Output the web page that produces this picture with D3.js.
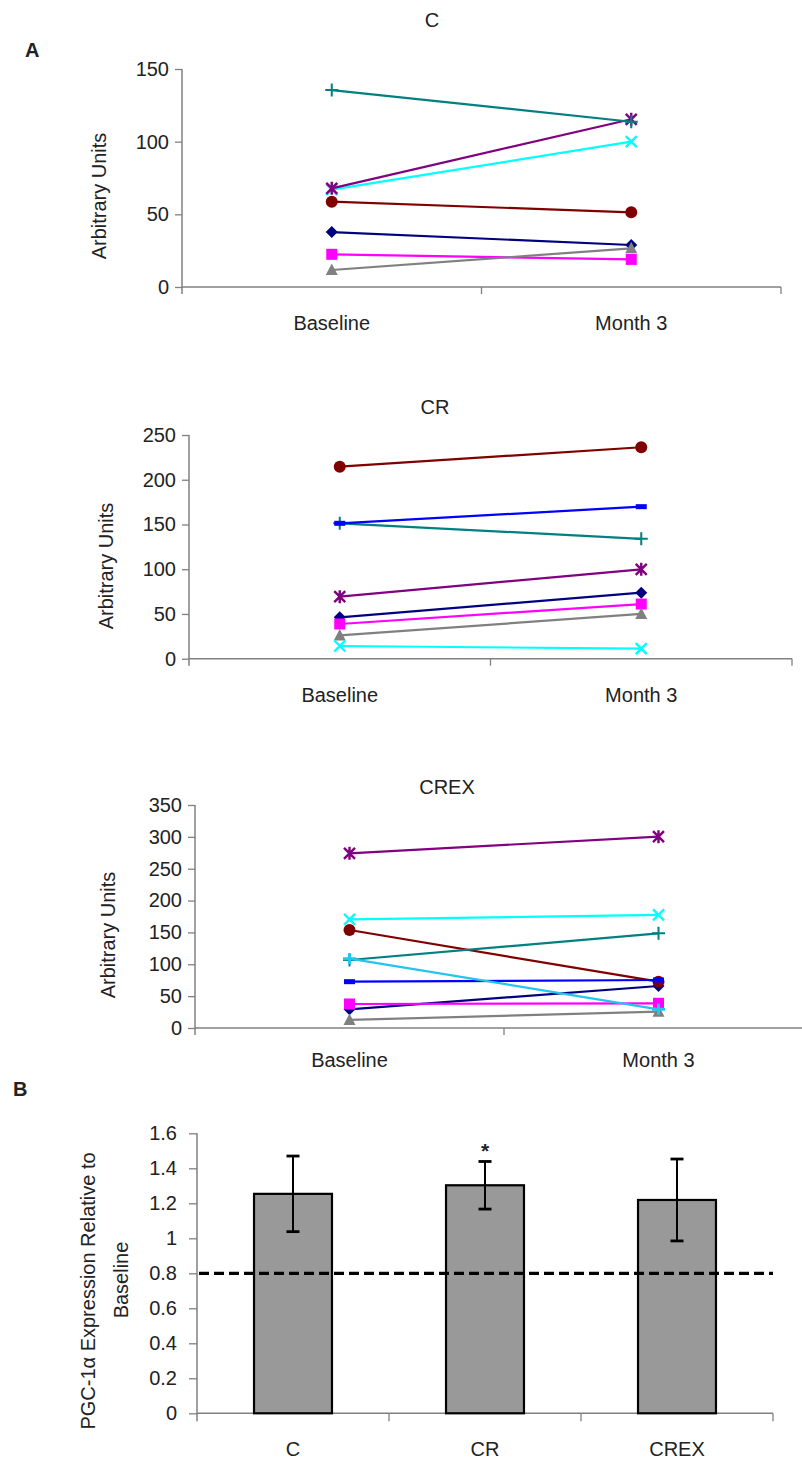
<!DOCTYPE html>
<html>
<head>
<meta charset="utf-8">
<script src="https://cdn.jsdelivr.net/npm/d3@7"></script>
<style>
  html, body { margin: 0; padding: 0; background: #fff; }
  svg { display: block; }
  text { font-family: "Liberation Sans", Arial, sans-serif; fill: #222; }
</style>
</head>
<body>
<svg id="chart" width="802" height="1460"></svg>
<script>
// ---------------- DATA ----------------
const timepoints = ["Baseline", "Month 3"];
// series order: S1 navy diamond, S2 magenta square, S3 gray triangle, S4 cyan x,
// S5 purple star, S6 dark red circle, S7 teal plus, S8 blue dash, S9 sky blue
const seriesKeys = ["S1", "S2", "S3", "S4", "S5", "S6", "S7", "S8", "S9"];

const cBaseline    = [37.8, 22.5, 11.7, 67.0, 67.9, 58.7, 135.5, null, null];
const cMonth3      = [28.9, 19.0, 26.6, 100.0, 115.4, 51.4, 113.7, null, null];
const crBaseline   = [46.2, 38.8, 26.0, 14.2, 69.3, 214.6, 151.3, 151.3, null];
const crMonth3     = [73.8, 61.1, 50.0, 11.2, 99.9, 236.3, 134.0, 169.9, null];
const crexBaseline = [29.3, 37.7, 12.6, 170.6, 274.2, 153.8, 106.7, 72.7, 108.8];
const crexMonth3   = [65.9, 38.8, 25.6, 177.4, 300.3, 72.7, 148.6, 75.3, 29.3];

const cTicks    = [0, 50, 100, 150];
const crTicks   = [0, 50, 100, 150, 200, 250];
const crexTicks = [0, 50, 100, 150, 200, 250, 300, 350];

const groups     = ["C", "CR", "CREX"];
const ratio      = [1.254, 1.303, 1.219];
const ratioErr   = [0.216, 0.136, 0.234];
const barTicks   = [0, 0.2, 0.4, 0.6, 0.8, 1.0, 1.2, 1.4, 1.6];
const refLevel   = 0.8;
const sigMarks   = ["", "*", ""];

// ---------------- STYLES ----------------
const seriesColor = {
  S1: "#000080", S2: "#FF00FF", S3: "#808080", S4: "#00FFFF", S5: "#800080",
  S6: "#800000", S7: "#008080", S8: "#0000FF", S9: "#22C4F0"
};
const seriesMarker = {
  S1: "diamond", S2: "square", S3: "triangle", S4: "x", S5: "star",
  S6: "circle", S7: "plus", S8: "dash", S9: "plusBold"
};

const svg = d3.select("#chart");
svg.append("rect").attr("width", 802).attr("height", 1460).attr("fill", "#fff");

const AXIS_COLOR = "#808080";
const FONT = 20;

function drawMarker(g, type, x, y, color) {
  const m = g.append("g").attr("transform", `translate(${x},${y})`);
  switch (type) {
    case "diamond":
      m.append("path").attr("d", "M0,-6L6,0L0,6L-6,0Z").attr("fill", color); break;
    case "square":
      m.append("rect").attr("x", -5.5).attr("y", -5.5).attr("width", 11).attr("height", 11).attr("fill", color); break;
    case "triangle":
      m.append("path").attr("d", "M0,-6.5L6,5L-6,5Z").attr("fill", color); break;
    case "x":
      m.append("path").attr("d", "M-5.5,-5.5L5.5,5.5M-5.5,5.5L5.5,-5.5").attr("stroke", color).attr("stroke-width", 2.4).attr("fill", "none"); break;
    case "star":
      m.append("path").attr("d", "M-5.5,-5.5L5.5,5.5M-5.5,5.5L5.5,-5.5M0,-6.5L0,6.5").attr("stroke", color).attr("stroke-width", 2.4).attr("fill", "none"); break;
    case "circle":
      m.append("circle").attr("r", 6).attr("fill", color); break;
    case "plus":
      m.append("path").attr("d", "M-6.5,0L6.5,0M0,-6.5L0,6.5").attr("stroke", color).attr("stroke-width", 2).attr("fill", "none"); break;
    case "dash":
      m.append("rect").attr("x", -5.5).attr("y", -2.5).attr("width", 11).attr("height", 5).attr("fill", color); break;
    case "plusBold":
      m.append("path").attr("d", "M-6.5,0L6.5,0M0,-5.5L0,5.5").attr("stroke", color).attr("stroke-width", 3).attr("fill", "none"); break;
  }
}

function linePanel(opts) {
  const { baseline, month3, ticks, yMax, xRange, yRange, title, titleX, titleY,
          ylabX, ylabY, xlabOffset } = opts;
  const g = svg.append("g");
  const x = d3.scaleBand().domain(timepoints).range(xRange).paddingInner(0).paddingOuter(0);
  const y = d3.scaleLinear().domain([0, yMax]).range(yRange);

  // y axis
  const yAxis = d3.axisLeft(y).tickValues(ticks).tickSize(7).tickSizeOuter(0).tickPadding(6)
    .tickFormat(d3.format("d"));
  const ya = g.append("g").attr("transform", `translate(${xRange[0]},0)`).call(yAxis);
  ya.select(".domain").remove();
  ya.selectAll(".tick line").attr("stroke", AXIS_COLOR).attr("stroke-width", 1.3);
  ya.selectAll(".tick text").attr("font-size", FONT).style("font-family", "Liberation Sans, Arial, sans-serif").attr("fill", "#222");
  g.append("line").attr("x1", xRange[0]).attr("x2", xRange[0])
    .attr("y1", yRange[1]).attr("y2", yRange[0] + 7)
    .attr("stroke", AXIS_COLOR).attr("stroke-width", 1.5);

  // x axis line + boundary ticks
  g.append("line").attr("x1", xRange[0]).attr("x2", xRange[1])
    .attr("y1", yRange[0]).attr("y2", yRange[0])
    .attr("stroke", AXIS_COLOR).attr("stroke-width", 1.5);
  const bounds = timepoints.map(t => x(t)).concat([x(timepoints[timepoints.length - 1]) + x.bandwidth()]);
  g.selectAll(".xb").data(bounds.slice(1)).join("line")
    .attr("x1", d => d).attr("x2", d => d)
    .attr("y1", yRange[0]).attr("y2", yRange[0] + 7)
    .attr("stroke", AXIS_COLOR).attr("stroke-width", 1.3);
  g.selectAll(".xl").data(timepoints).join("text")
    .attr("x", d => x(d) + x.bandwidth() / 2)
    .attr("y", yRange[0] + xlabOffset)
    .attr("text-anchor", "middle").attr("font-size", FONT)
    .text(d => d);

  // title
  g.append("text").attr("x", titleX).attr("y", titleY).attr("text-anchor", "middle")
    .attr("font-size", FONT).text(title);
  // y label
  g.append("text").attr("transform", `translate(${ylabX},${ylabY}) rotate(-90)`)
    .attr("text-anchor", "middle").attr("font-size", FONT).text("Arbitrary Units");

  // series
  const cx = t => x(t) + x.bandwidth() / 2;
  seriesKeys.forEach((k, i) => {
    if (baseline[i] == null) return;
    const pts = [[cx(timepoints[0]), y(baseline[i])], [cx(timepoints[1]), y(month3[i])]];
    g.append("path").attr("d", d3.line()(pts)).attr("stroke", seriesColor[k])
      .attr("stroke-width", 2.2).attr("fill", "none");
    pts.forEach(p => drawMarker(g, seriesMarker[k], p[0], p[1], seriesColor[k]));
  });
}

// panel labels
svg.append("text").attr("x", 25).attr("y", 57).attr("font-size", 20).attr("font-weight", "bold").attr("fill", "#000").text("A");
svg.append("text").attr("x", 13).attr("y", 1096).attr("font-size", 20).attr("font-weight", "bold").attr("fill", "#000").text("B");

linePanel({ baseline: cBaseline, month3: cMonth3, ticks: cTicks, yMax: 150,
  xRange: [182, 781], yRange: [287, 69], title: "C", titleX: 432, titleY: 27,
  ylabX: 106, ylabY: 196, xlabOffset: 43 });
linePanel({ baseline: crBaseline, month3: crMonth3, ticks: crTicks, yMax: 250,
  xRange: [189, 792], yRange: [658.7, 435], title: "CR", titleX: 435, titleY: 414,
  ylabX: 113, ylabY: 566, xlabOffset: 43 });
linePanel({ baseline: crexBaseline, month3: crexMonth3, ticks: crexTicks, yMax: 350,
  xRange: [195, 813], yRange: [1028, 805], title: "CREX", titleX: 447, titleY: 794,
  ylabX: 115, ylabY: 935, xlabOffset: 39 });

// ---------------- BAR CHART ----------------
(function () {
  const g = svg.append("g");
  const xr = [197, 773], yr = [1413.3, 1133.3];
  const x = d3.scaleBand().domain(groups).range(xr).paddingInner(0.594).paddingOuter(0.297);
  const y = d3.scaleLinear().domain([0, 1.6]).range(yr);

  const yAxis = d3.axisLeft(y).tickValues(barTicks).tickSize(8).tickSizeOuter(0).tickPadding(12)
    .tickFormat(d => String(+d.toFixed(1)));
  const ya = g.append("g").attr("transform", `translate(${xr[0]},0)`).call(yAxis);
  ya.select(".domain").remove();
  ya.selectAll(".tick line").attr("stroke", AXIS_COLOR).attr("stroke-width", 1.3);
  ya.selectAll(".tick text").attr("font-size", FONT).style("font-family", "Liberation Sans, Arial, sans-serif").attr("fill", "#222");
  g.append("line").attr("x1", xr[0]).attr("x2", xr[0]).attr("y1", yr[1]).attr("y2", yr[0] + 8)
    .attr("stroke", AXIS_COLOR).attr("stroke-width", 1.5);
  g.append("line").attr("x1", xr[0]).attr("x2", xr[1]).attr("y1", yr[0]).attr("y2", yr[0])
    .attr("stroke", AXIS_COLOR).attr("stroke-width", 1.5);
  const step = x.step();
  const bounds = groups.map((d, i) => xr[0] + step * (i + 1));
  g.selectAll(".xb").data(bounds).join("line")
    .attr("x1", d => d).attr("x2", d => d).attr("y1", yr[0]).attr("y2", yr[0] + 8)
    .attr("stroke", AXIS_COLOR).attr("stroke-width", 1.3);
  g.selectAll(".xl").data(groups).join("text")
    .attr("x", d => x(d) + x.bandwidth() / 2).attr("y", yr[0] + 43)
    .attr("text-anchor", "middle").attr("font-size", FONT).text(d => d);

  // bars
  g.selectAll(".bar").data(groups).join("rect")
    .attr("x", d => x(d)).attr("width", x.bandwidth())
    .attr("y", (d, i) => y(ratio[i])).attr("height", (d, i) => y(0) - y(ratio[i]))
    .attr("fill", "#999999").attr("stroke", "#000").attr("stroke-width", 2.2);

  // dashed reference line
  g.append("line").attr("x1", xr[0] + 2).attr("x2", xr[1]).attr("y1", y(refLevel)).attr("y2", y(refLevel))
    .attr("stroke", "#000").attr("stroke-width", 3.2).attr("stroke-dasharray", "10,5");

  // error bars
  groups.forEach((d, i) => {
    const cx = x(d) + x.bandwidth() / 2;
    const y1 = y(ratio[i] + ratioErr[i]), y2 = y(ratio[i] - ratioErr[i]);
    g.append("line").attr("x1", cx).attr("x2", cx).attr("y1", y1).attr("y2", y2).attr("stroke", "#000").attr("stroke-width", 2);
    [y1, y2].forEach(yy => g.append("line").attr("x1", cx - 6.5).attr("x2", cx + 6.5).attr("y1", yy).attr("y2", yy)
      .attr("stroke", "#000").attr("stroke-width", 2.8));
    if (sigMarks[i]) {
      g.append("text").attr("x", cx).attr("y", y1 - 3).attr("text-anchor", "middle")
        .attr("font-size", 21).attr("font-weight", "bold").attr("fill", "#000").text(sigMarks[i]);
    }
  });

  // y label (two lines)
  g.append("text").attr("transform", "translate(95,1291) rotate(-90)").attr("text-anchor", "middle")
    .attr("font-size", 20).text("PGC-1α Expression Relative to");
  g.append("text").attr("transform", "translate(128,1280) rotate(-90)").attr("text-anchor", "middle")
    .attr("font-size", 20).text("Baseline");
})();
</script>
</body>
</html>
